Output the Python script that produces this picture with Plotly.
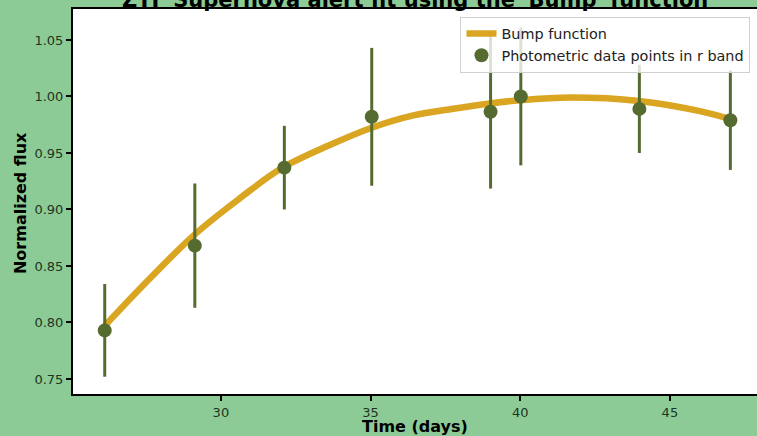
import plotly.graph_objects as go

# Photometric data (r band)
time_days = [26.12, 29.13, 32.12, 35.04, 39.01, 40.02, 43.98, 47.02]
flux = [0.793, 0.868, 0.937, 0.982, 0.9865, 1.000, 0.989, 0.979]
flux_err = [0.041, 0.055, 0.037, 0.061, 0.068, 0.061, 0.039, 0.044]

# Bump function fit
fit_time = [26.12, 27.52, 29.13, 30.64, 32.0, 33.64, 35.04, 36.43, 37.76, 38.99, 40.0, 41.7, 43.97, 46.0, 47.01]
fit_flux = [0.797, 0.836, 0.878, 0.910, 0.936, 0.957, 0.9723, 0.9832, 0.9891, 0.9938, 0.9967, 0.999, 0.996, 0.987, 0.980]

x_ticks = [30, 35, 40, 45]
y_ticks = [0.75, 0.80, 0.85, 0.90, 0.95, 1.00, 1.05]

BG = "#8ccb95"
TXT = "#1d3522"
FONT = "DejaVu Sans"

fig = go.Figure()
fig.add_trace(go.Scatter(
    x=fit_time, y=fit_flux, mode="lines", name="Bump function",
    line=dict(color="#DAA520", width=6.5, shape="spline", smoothing=1.0),
))
fig.add_trace(go.Scatter(
    x=time_days, y=flux, mode="markers", name="Photometric data points in r band",
    marker=dict(color="#556B2F", size=14),
    error_y=dict(type="data", array=flux_err, visible=True, color="#556B2F", thickness=3, width=0),
))

fig.update_layout(
    width=757, height=436,
    margin=dict(l=73, r=0, t=9, b=42),
    paper_bgcolor=BG, plot_bgcolor="white",
    font=dict(family=FONT, color=TXT, size=13),
    showlegend=True,
    legend=dict(
        x=0.5665, y=0.98, xanchor="left", yanchor="top",
        bgcolor="rgba(255,255,255,0.8)", bordercolor="#d0d0d0", borderwidth=1,
        font=dict(family=FONT, size=14.4, color="#222222"),
        tracegroupgap=0,
    ),
    xaxis=dict(
        range=[25.06, 47.91], tickvals=x_ticks, ticktext=[str(v) for v in x_ticks],
        showgrid=False, zeroline=False, automargin=False,
        showline=True, linecolor="black", linewidth=2, mirror=True,
        ticks="outside", ticklen=5, tickwidth=1.5, tickcolor="black",
        tickfont=dict(size=13, color=TXT),
    ),
    yaxis=dict(
        range=[0.7367, 1.0774], tickvals=y_ticks, ticktext=[f"{v:.2f}" for v in y_ticks],
        showgrid=False, zeroline=False, automargin=False,
        showline=True, linecolor="black", linewidth=2, mirror=False,
        ticks="outside", ticklen=5, tickwidth=1.5, tickcolor="black",
        tickfont=dict(size=13, color=TXT),
    ),
)

# Axis titles
fig.add_annotation(
    text="<b>Time (days)</b>", xref="paper", yref="paper", x=0.5, y=0,
    xanchor="center", yanchor="middle", yshift=-32.5, showarrow=False,
    font=dict(family=FONT, size=16, color="black"),
)
fig.add_annotation(
    text="<b>Normalized flux</b>", xref="paper", yref="paper", x=-0.0775, y=0.496,
    xanchor="center", yanchor="middle", textangle=-90, showarrow=False,
    font=dict(family=FONT, size=16, color="black"),
)
# Title (partly cut off at the top edge, as in the reference)
fig.add_annotation(
    text="<b>ZTF Supernova alert fit using the 'Bump' function</b>",
    xref="paper", yref="paper", x=0.5, y=1, xanchor="center", yanchor="bottom",
    yshift=-5, showarrow=False, font=dict(family=FONT, size=21, color="black"),
)

fig.write_html(
    "out.html",
    config={"displayModeBar": False},
    post_script="document.body.style.margin='0px';document.body.style.overflow='hidden';",
)
